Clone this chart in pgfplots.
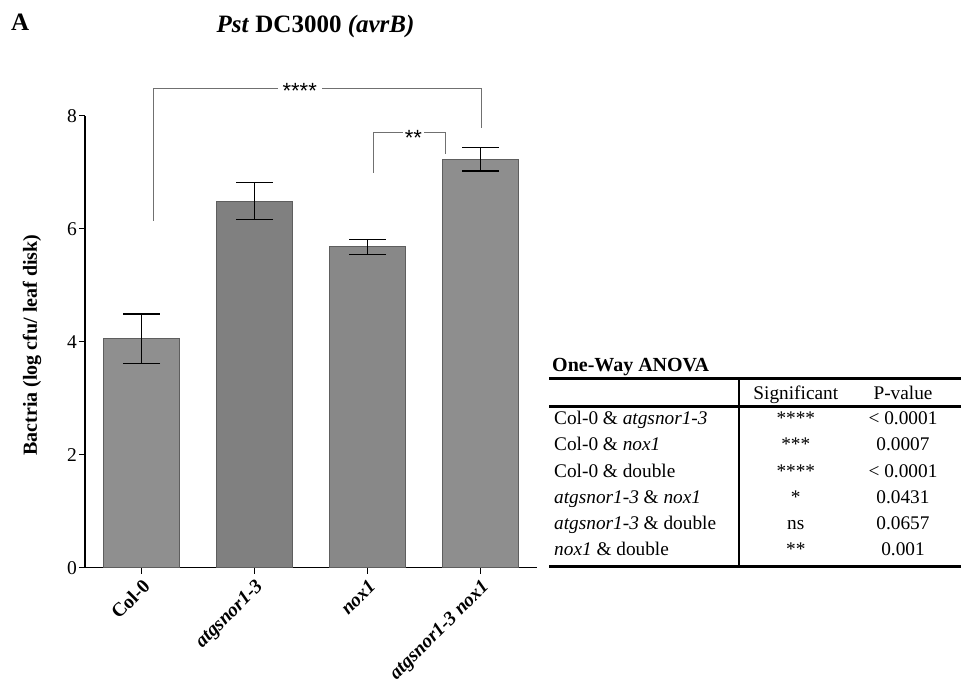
\documentclass[border=0pt]{standalone}
\usepackage{fontspec}
\setmainfont{Liberation Serif}
\setsansfont{Liberation Sans}
\usepackage{pgfplots}
\pgfplotsset{compat=1.18}
\definecolor{barA}{HTML}{8F8F8F}
\definecolor{barB}{HTML}{808080}
\definecolor{barC}{HTML}{888888}
\definecolor{barD}{HTML}{8E8E8E}
\definecolor{edgec}{HTML}{5E5E5E}
\definecolor{brk}{HTML}{707070}
\begin{document}
\begin{tikzpicture}
\useasboundingbox (0pt,0pt) rectangle (961pt,-688pt);
% panel letter and title
\node[anchor=base west, inner sep=0pt] at (11pt,-30pt) {\fontsize{25}{27}\selectfont\bfseries A};
\node[anchor=base, inner sep=0pt] at (315.5pt,-32pt) {\fontsize{25}{27}\selectfont\bfseries\textit{Pst} DC3000 \textit{(avrB)}};
\begin{axis}[
  at={(85pt,-567.7pt)}, anchor=south west,
  scale only axis, width=452pt, height=452pt,
  xmin=-0.5, xmax=3.5, ymin=0, ymax=8,
  axis x line=bottom, axis y line=left,
  axis line style={-, black, line width=1.3pt},
  tick style={black, line width=1.3pt},
  major tick length=6pt, tick align=outside,
  xtick={0,1,2,3},
  xticklabels={{\textbf{Col-0}},{\textbf{\textit{atgsnor1-3}}},{\textbf{\textit{nox1}}},{\textbf{\textit{atgsnor1-3 nox1}}}},
  x tick label style={rotate=45, anchor=north east, inner sep=3pt, font=\fontsize{19.5}{21}\selectfont\bfseries},
  ytick={0,2,4,6,8},
  y tick label style={font=\fontsize{19.5}{21}\selectfont, inner sep=2pt},
  /pgf/number format/assume math mode=true,
  ylabel={\textbf{Bactria (log cfu/ leaf disk)}},
  ylabel style={at={(axis description cs:-0.117,0.4927)}, rotate=0, anchor=center, font=\fontsize{20}{22}\selectfont},
  clip=false,
  error bars/error bar style={black, line width=1.3pt},
  error bars/error mark options={black, rotate=90, mark size=18.5pt, line width=1.3pt},
]
\addplot[ybar, bar width=75.3pt, bar shift=0pt, fill=barA, draw=edgec, line width=0.8pt,
  error bars/.cd, y dir=both, y explicit] coordinates {(0,4.05) +- (0,0.44)};
\addplot[ybar, bar width=75.3pt, bar shift=0pt, fill=barB, draw=edgec, line width=0.8pt,
  error bars/.cd, y dir=both, y explicit] coordinates {(1,6.49) +- (0,0.33)};
\addplot[ybar, bar width=75.3pt, bar shift=0pt, fill=barC, draw=edgec, line width=0.8pt,
  error bars/.cd, y dir=both, y explicit] coordinates {(2,5.68) +- (0,0.135)};
\addplot[ybar, bar width=75.3pt, bar shift=0pt, fill=barD, draw=edgec, line width=0.8pt,
  error bars/.cd, y dir=both, y explicit] coordinates {(3,7.23) +- (0,0.21)};
% significance brackets
\draw[brk, line width=1pt] (axis cs:0.109,6.142) -- (axis cs:0.109,8.473) -- (axis cs:3.005,8.473) -- (axis cs:3.005,7.788);
\node[fill=white, inner xsep=5pt, inner ysep=1pt, anchor=base] at (axis cs:1.40,8.30) {\sffamily\fontsize{22}{22}\selectfont ****};
\draw[brk, line width=1pt] (axis cs:2.057,6.991) -- (axis cs:2.057,7.699) -- (axis cs:2.69,7.699) -- (axis cs:2.69,7.315);
\node[fill=white, inner xsep=2pt, inner ysep=1pt, anchor=base] at (axis cs:2.407,7.48) {\sffamily\fontsize{22}{22}\selectfont **};
\end{axis}
% ANOVA table
\node[anchor=base west, inner sep=0pt] at (552pt,-371pt) {\fontsize{20}{22}\selectfont\bfseries One-Way ANOVA};
\draw[black, line width=3.5pt] (549pt,-378.3pt) -- (961pt,-378.3pt);
\draw[black, line width=2.5pt] (549pt,-406.7pt) -- (961pt,-406.7pt);
\draw[black, line width=3.5pt] (549pt,-566.7pt) -- (961pt,-566.7pt);
\draw[black, line width=2pt] (739pt,-378.3pt) -- (739pt,-566.7pt);
\begin{scope}[every node/.style={inner sep=0pt, font=\fontsize{19.3}{21}\selectfont}]
\node[anchor=base] at (795.8pt,-399pt) {Significant};
\node[anchor=base] at (903pt,-399pt) {P-value};
\node[anchor=base west] at (554pt,-424pt) {Col-0 \& \textit{atgsnor1-3}};
\node[anchor=base west] at (554pt,-450.5pt) {Col-0 \& \textit{nox1}};
\node[anchor=base west] at (554pt,-477pt) {Col-0 \& double};
\node[anchor=base west] at (554pt,-503pt) {\textit{atgsnor1-3} \& \textit{nox1}};
\node[anchor=base west] at (554pt,-529.5pt) {\textit{atgsnor1-3} \& double};
\node[anchor=base west] at (554pt,-555.5pt) {\textit{nox1} \& double};
\node[anchor=base] at (795.8pt,-424pt) {****};
\node[anchor=base] at (795.8pt,-450.5pt) {***};
\node[anchor=base] at (795.8pt,-477pt) {****};
\node[anchor=base] at (795.8pt,-503pt) {*};
\node[anchor=base] at (795.8pt,-529.5pt) {ns};
\node[anchor=base] at (795.8pt,-555.5pt) {**};
\node[anchor=base] at (903pt,-424pt) {< 0.0001};
\node[anchor=base] at (903pt,-450.5pt) {0.0007};
\node[anchor=base] at (903pt,-477pt) {< 0.0001};
\node[anchor=base] at (903pt,-503pt) {0.0431};
\node[anchor=base] at (903pt,-529.5pt) {0.0657};
\node[anchor=base] at (903pt,-555.5pt) {0.001};
\end{scope}
\end{tikzpicture}
\end{document}
